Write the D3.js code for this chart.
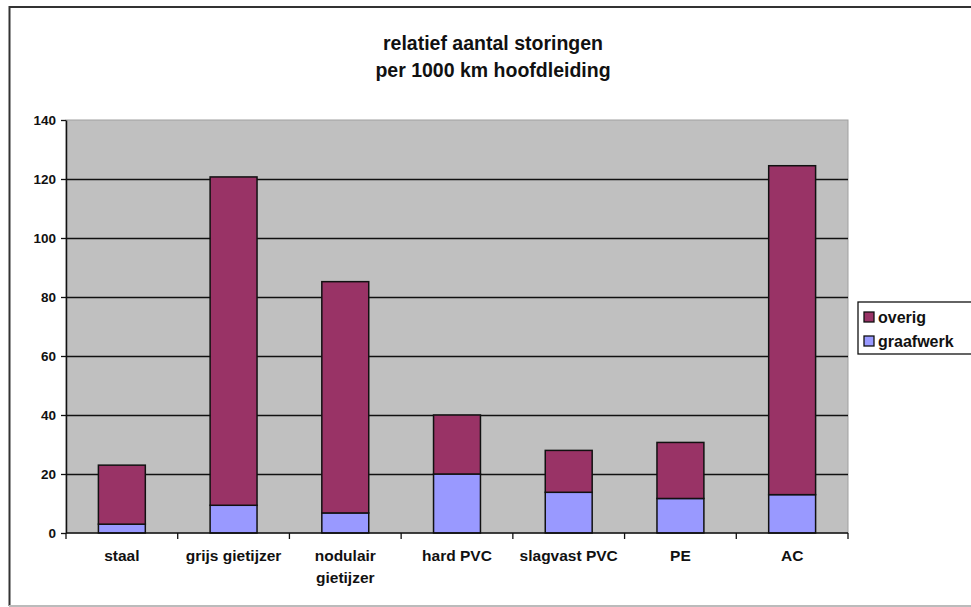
<!DOCTYPE html>
<html>
<head>
<meta charset="utf-8">
<script src="https://cdn.jsdelivr.net/npm/d3@7"></script>
<style>
  body { margin: 0; background: #fff; }
  svg { display: block; font-family: "Liberation Sans", Arial, sans-serif; }
</style>
</head>
<body>
<svg id="chart"></svg>
<script>
// data
const categories = ["staal", "grijs gietijzer", "nodulair gietijzer", "hard PVC", "slagvast PVC", "PE", "AC"]
const graafwerk = [3, 9.4, 6.8, 20, 13.8, 11.7, 13]
const overig = [20, 111.3, 78.4, 20, 14.2, 19, 111.5]
const yTicks = [0, 20, 40, 60, 80, 100, 120, 140]
const seriesNames = ["graafwerk", "overig"]
const colors = { graafwerk: "#9999ff", overig: "#993366" }

const width = 971
const height = 607
const marginLeft = 66
const marginRight = 123
const marginTop = 120
const marginBottom = 74

const svg = d3.select("#chart")
    .attr("width", width)
    .attr("height", height)
    .attr("viewBox", [0, 0, width, height])

// outer frame (left + top dark, bottom light)
svg.append("line").attr("x1", 9.5).attr("x2", 9.5).attr("y1", 6).attr("y2", 606)
    .attr("stroke", "#333").attr("stroke-width", 2)
svg.append("line").attr("x1", 9).attr("x2", width).attr("y1", 7).attr("y2", 7)
    .attr("stroke", "#333").attr("stroke-width", 2)
svg.append("line").attr("x1", 9).attr("x2", width).attr("y1", 606).attr("y2", 606)
    .attr("stroke", "#bbb").attr("stroke-width", 2)

const table = categories.map((c, i) => ({ cat: c, graafwerk: graafwerk[i], overig: overig[i] }))
const stacked = d3.stack().keys(seriesNames)(table)

const x = d3.scaleBand(categories, [marginLeft, width - marginRight])
    .paddingInner(0.58).paddingOuter(0.29)
const y = d3.scaleLinear([0, 140], [height - marginBottom, marginTop])

// plot background
svg.append("rect")
    .attr("x", marginLeft).attr("y", marginTop)
    .attr("width", width - marginLeft - marginRight)
    .attr("height", height - marginTop - marginBottom)
    .attr("fill", "#c0c0c0")
    .attr("stroke", "#a0a0a0")

// gridlines
svg.append("g")
  .selectAll("line")
  .data(yTicks.filter(d => d > 0 && d < 140))
  .join("line")
    .attr("x1", marginLeft).attr("x2", width - marginRight)
    .attr("y1", d => Math.round(y(d)) + 0.5).attr("y2", d => Math.round(y(d)) + 0.5)
    .attr("stroke", "#111").attr("stroke-width", 1.3)

// bars
svg.append("g")
  .selectAll("g")
  .data(stacked)
  .join("g")
    .attr("fill", d => colors[d.key])
  .selectAll("rect")
  .data(d => d)
  .join("rect")
    .attr("x", d => x(d.data.cat))
    .attr("width", x.bandwidth())
    .attr("y", d => y(d[1]))
    .attr("height", d => y(d[0]) - y(d[1]))
    .attr("stroke", "#111")
    .attr("stroke-width", 1.5)

// y axis
svg.append("g")
    .attr("transform", `translate(${marginLeft},0)`)
    .call(d3.axisLeft(y).tickValues(yTicks).tickSize(5).tickSizeOuter(0).tickFormat(d3.format("d")))
    .call(g => g.select(".domain").attr("stroke", "#111").attr("stroke-width", 1.5))
    .call(g => g.selectAll(".tick line").attr("stroke", "#111").attr("stroke-width", 1.3))
    .call(g => g.selectAll(".tick text")
        .attr("x", -10)
        .attr("fill", "#111")
        .attr("font-size", 13.5)
        .attr("font-weight", "bold")
        .attr("font-family", "Liberation Sans, Arial, sans-serif"))

// x axis: ticks at category boundaries
const step = x.step()
const bounds = d3.range(categories.length + 1).map(i => marginLeft + i * step)
const xAxisG = svg.append("g")
xAxisG.append("line")
    .attr("x1", marginLeft).attr("x2", width - marginRight)
    .attr("y1", y(0)).attr("y2", y(0))
    .attr("stroke", "#111").attr("stroke-width", 1.5)
xAxisG.selectAll(".bt")
  .data(bounds)
  .join("line")
    .attr("class", "bt")
    .attr("x1", d => d).attr("x2", d => d)
    .attr("y1", y(0)).attr("y2", y(0) + 6)
    .attr("stroke", "#111").attr("stroke-width", 1.3)

const labelLines = { "nodulair gietijzer": ["nodulair", "gietijzer"] }
xAxisG.selectAll("text")
  .data(categories)
  .join("text")
    .attr("x", d => x(d) + x.bandwidth() / 2)
    .attr("y", y(0) + 28)
    .attr("text-anchor", "middle")
    .attr("font-size", 15.5)
    .attr("font-weight", "bold")
    .attr("fill", "#111")
    .each(function (d) {
      const lines = labelLines[d] || [d]
      d3.select(this).selectAll("tspan")
        .data(lines)
        .join("tspan")
          .attr("x", x(d) + x.bandwidth() / 2)
          .attr("dy", (l, i) => i === 0 ? 0 : 22)
          .text(l => l)
    })

// title
svg.append("text")
    .attr("x", 493).attr("y", 50)
    .attr("text-anchor", "middle")
    .attr("font-size", 19.5).attr("font-weight", "bold").attr("fill", "#111")
    .text("relatief aantal storingen")
svg.append("text")
    .attr("x", 493).attr("y", 77)
    .attr("text-anchor", "middle")
    .attr("font-size", 19.5).attr("font-weight", "bold").attr("fill", "#111")
    .text("per 1000 km hoofdleiding")

// legend
const legend = svg.append("g").attr("transform", "translate(858,302)")
legend.append("rect")
    .attr("width", 116).attr("height", 52)
    .attr("fill", "#fff").attr("stroke", "#111").attr("stroke-width", 1.3)
const legendItems = ["overig", "graafwerk"]
legend.selectAll("g")
  .data(legendItems)
  .join("g")
    .attr("transform", (d, i) => `translate(6,${10 + i * 24})`)
    .call(g => g.append("rect")
        .attr("width", 10).attr("height", 10)
        .attr("fill", d => colors[d])
        .attr("stroke", "#111").attr("stroke-width", 1.3))
    .call(g => g.append("text")
        .attr("x", 14).attr("y", 11)
        .attr("font-size", 16).attr("font-weight", "bold").attr("fill", "#111")
        .text(d => d))
</script>
</body>
</html>
